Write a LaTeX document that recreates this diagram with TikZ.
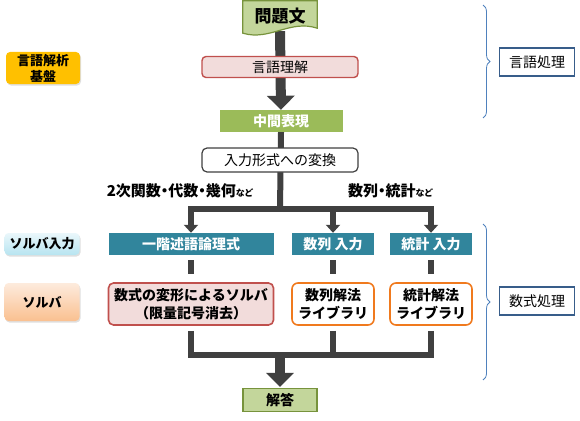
\documentclass[tikz,border=0pt]{standalone}
\usepackage{fontspec}
\setmainfont{Noto Sans CJK JP}
\usetikzlibrary{arrows.meta,decorations.pathreplacing,backgrounds,shadows,calc}

\definecolor{docgreen}{HTML}{C3D69B}
\definecolor{docedge}{HTML}{77933C}
\definecolor{midgreen}{HTML}{9BBB59}
\definecolor{pinkfill}{HTML}{F2DCDB}
\definecolor{rededge}{HTML}{C0504D}
\definecolor{orangeedge}{HTML}{F07A1E}
\definecolor{tealfill}{HTML}{31859C}
\definecolor{gold}{HTML}{FFC000}
\definecolor{stemgray}{HTML}{404040}
\definecolor{bracecol}{HTML}{4F81BD}
\definecolor{navyedge}{HTML}{385D8A}
\definecolor{bluetop}{HTML}{EAF7FB}
\definecolor{bluebot}{HTML}{B7E4F0}
\definecolor{peachtop}{HTML}{FDEBDD}
\definecolor{peachbot}{HTML}{FAC090}

\begin{document}
\begin{tikzpicture}[x=1pt,y=-1pt]
	\tikzset{
		box/.style={minimum height=22pt, inner sep=0pt, align=center,
			font=\fontsize{14}{18}\selectfont\bfseries},
		plain box/.style={box, font=\fontsize{14}{18}\selectfont},
		green box/.style={box, fill=docgreen, draw=docedge, line width=1.2pt},
		teal box/.style={box, fill=tealfill, text=white},
		red box/.style={box, fill=pinkfill, draw=rededge, line width=1.6pt, rounded corners=5pt},
		lib box/.style={box, fill=white, draw=orangeedge, line width=1.6pt, rounded corners=6pt},
		side box/.style={box, rounded corners=4pt, font=\fontsize{13}{16}\selectfont\bfseries,
			drop shadow={opacity=0.25, shadow xshift=1pt, shadow yshift=-1.5pt}},
		part box/.style={plain box, fill=white, draw=navyedge, line width=1.1pt,
			minimum width=75pt, minimum height=28pt},
		stem/.style={stemgray, line width=10pt, -{Triangle[width=27pt, length=14pt]}},
		conn/.style={stemgray, line width=6pt},
		drop/.style={conn, -{Triangle[width=14pt, length=8pt]}},
		note/.style={font=\fontsize{15}{17}\selectfont\bfseries\addfontfeatures{RawFeature=+palt},
			inner sep=0pt},
		brace lines/.style={bracecol, line width=0.8pt, decorate,
			decoration={brace, amplitude=7pt}},
	}
	\newcommand{\nado}{{\fontsize{9}{10}\selectfont など}}
	\useasboundingbox (0,0) rectangle (580,420);

	% main column
	\node[box, font=\fontsize{17}{19}\selectfont\bfseries, minimum width=74pt,
		minimum height=30pt] (q) at (280,16) {問題文};
	\node[plain box, fill=pinkfill, draw=rededge, line width=1.4pt, rounded corners=4pt,
		minimum width=156pt, minimum height=21pt] (lu) at (280,67) {言語理解};
	\node[box, fill=midgreen, text=white, minimum width=123pt] (mid) at (281,121) {中間表現};
	\node[plain box, fill=white, draw=stemgray, line width=1.2pt, rounded corners=5pt,
		minimum width=156pt, minimum height=24pt] (conv) at (280,160) {入力形式への変換};

	\node[note, anchor=east] (l1) at (253,191) {2次関数・代数・幾何\nado};
	\node[note, anchor=west] (l2) at (348,191) {数列・統計\nado};

	\node[teal box, minimum width=165pt] (t1) at (191,244) {一階述語論理式};
	\node[teal box, minimum width=82pt] (t2) at (333,244) {数列 入力};
	\node[teal box, minimum width=82pt] (t3) at (431,244) {統計 入力};

	\node[red box, minimum width=165pt, minimum height=42pt] (s1) at (191,304)
		{数式の変形によるソルバ\\（限量記号消去）};
	\node[lib box, minimum width=82pt, minimum height=42pt] (s2) at (333,304)
		{数列解法\\ライブラリ};
	\node[lib box, minimum width=82pt, minimum height=42pt] (s3) at (431,304)
		{統計解法\\ライブラリ};

	\node[green box, minimum width=74pt, minimum height=23pt] (ans) at (280,400) {解答};

	% left labels
	\node[side box, fill=gold, minimum width=74pt, minimum height=32pt] (base) at (43,68)
		{言語解析\\基盤};
	\node[side box, top color=bluetop, bottom color=bluebot, minimum width=75pt]
		(sin) at (42,244) {ソルバ入力};
	\node[side box, top color=peachtop, bottom color=peachbot, minimum width=75pt,
		minimum height=38pt] (sol) at (42,302) {ソルバ};

	% right labels
	\node[part box] (lp) at (537,62) {言語処理};
	\node[part box] (mp) at (537,301) {数式処理};
	\draw[brace lines] (483,5) -- (483,118);
	\draw[brace lines] (483,224) -- (483,380);

	\coordinate (top bar) at (280,209);
	\coordinate (low bar) at (280,355);

	\begin{scope}[on background layer]
		\draw[stem] (q.south) -- (mid.north);
		\draw[conn] (mid.south) -- (top bar);
		\draw[conn, line cap=rect] (t1.north |- top bar) -- (t3.north |- top bar);
		\draw[drop] (t1.north |- top bar) -- (t1.north);
		\draw[drop] (t2.north |- top bar) -- (t2.north);
		\draw[drop] (t3.north |- top bar) -- (t3.north);
		\foreach \i in {1,2,3} {
			\draw[conn, shorten <=5pt, shorten >=8pt] (t\i.south) -- (s\i.north);
			\draw[conn, shorten <=5pt] (s\i.south) -- (s\i.south |- low bar);
		}
		\draw[conn, line cap=rect] (s1.south |- low bar) -- (s3.south |- low bar);
		\draw[stem, shorten >=1pt] (low bar) -- (ans.north);
		\fill[docgreen, draw=docedge, line width=1.2pt] (q.north west) -- (q.north east)
			-- ($(q.south east)+(0,-3)$)
			.. controls ($(q.south)+(10,-12)$) and ($(q.south)+(-10,10)$) ..
			($(q.south west)+(0,2)$) -- cycle;
	\end{scope}
\end{tikzpicture}
\end{document}
